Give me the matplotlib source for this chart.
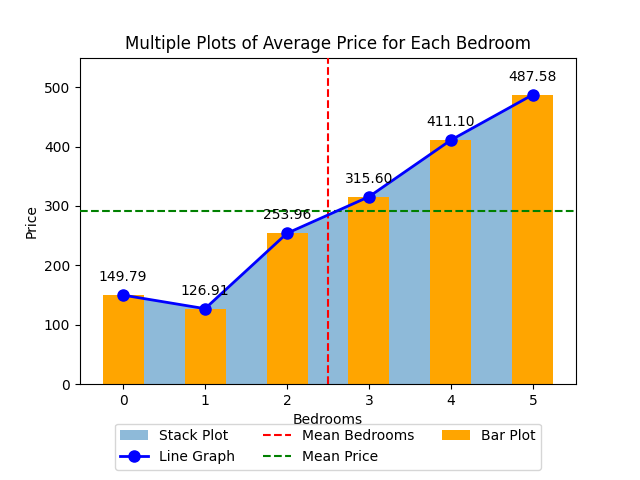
import matplotlib
matplotlib.use("Agg")
import matplotlib.pyplot as plt
import numpy as np

bedrooms = [0, 1, 2, 3, 4, 5]
prices = [149.79, 126.91, 253.96, 315.60, 411.10, 487.58]

mean_bed = np.mean(bedrooms)
mean_price = np.mean(prices)

fig, ax = plt.subplots(figsize=(6.4, 4.8), dpi=100)
ax.stackplot(bedrooms, prices, alpha=0.5, labels=["Stack Plot"], zorder=1)
ax.plot(bedrooms, prices, color="blue", marker="o", markersize=8, linewidth=2,
        label="Line Graph", zorder=4)
ax.axvline(mean_bed, color="red", linestyle="--", label="Mean Bedrooms", zorder=3)
ax.axhline(mean_price, color="green", linestyle="--", label="Mean Price", zorder=3)
ax.bar(bedrooms, prices, width=0.5, color="orange", label="Bar Plot", zorder=2)

for x, y in zip(bedrooms, prices):
    ax.annotate(f"{y:.2f}", (x, y), textcoords="offset points", xytext=(0, 10),
                ha="center", zorder=5)

ax.set_ylim(0, 550)
ax.set_title("Multiple Plots of Average Price for Each Bedroom")
ax.set_xlabel("Bedrooms")
ax.set_ylabel("Price")
fig.subplots_adjust(bottom=0.2)
ax.legend(loc="upper center", bbox_to_anchor=(0.5, -0.1), ncol=3)
fig.savefig("out.png")
